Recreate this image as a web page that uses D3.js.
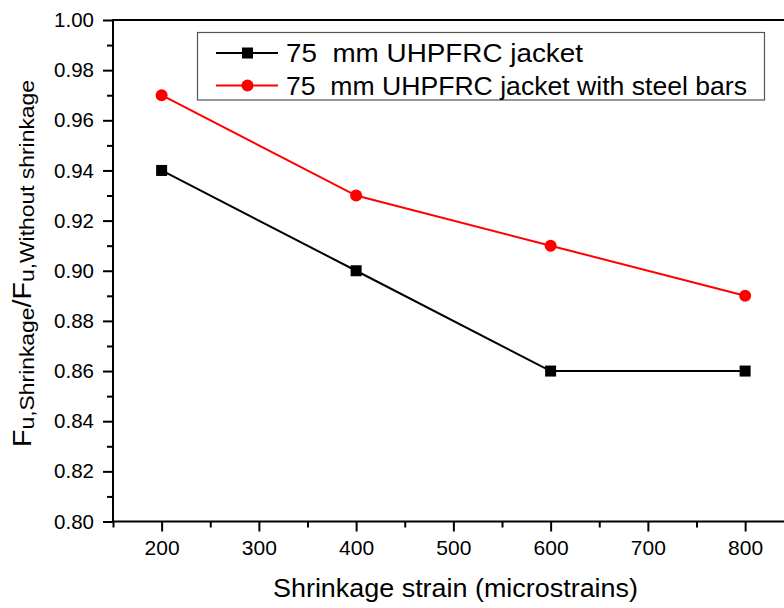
<!DOCTYPE html>
<html>
<head>
<meta charset="utf-8">
<script src="https://cdn.jsdelivr.net/npm/d3@7"></script>
<style>
  html, body { margin: 0; padding: 0; background: #fff; }
  svg { display: block; font-family: Arial, "Liberation Sans", sans-serif; }
</style>
</head>
<body>
<svg id="chart" width="784" height="608"></svg>
<script>
// Shrinkage strain levels (microstrains)
const strains = [200, 400, 600, 800];
// Normalised ultimate load F_u,Shrinkage / F_u,Without shrinkage
const jacket = [0.94, 0.90, 0.86, 0.86];
const jacketBars = [0.97, 0.93, 0.91, 0.89];
const seriesNames = ["75  mm UHPFRC jacket", "75  mm UHPFRC jacket with steel bars"];
const xTicks = [200, 300, 400, 500, 600, 700, 800];
const yTicks = [0.80, 0.82, 0.84, 0.86, 0.88, 0.90, 0.92, 0.94, 0.96, 0.98, 1.00];

const svg = d3.select("#chart");
const plotLeft = 113, plotTop = 20, plotBottom = 521.5;
const x = d3.scaleLinear().domain([150, 850]).range([plotLeft, plotLeft + 700 * 0.9725]);
const y = d3.scaleLinear().domain([0.80, 1.00]).range([plotBottom, plotTop]);

const axisW = 2;
const fontFam = "Arial, 'Liberation Sans', sans-serif";

// x axis with minor ticks
const xMinor = d3.range(150, 851, 50).filter(v => v % 100 !== 0);
svg.append("g").attr("transform", `translate(0,${plotBottom})`)
  .call(d3.axisBottom(x).tickValues(xMinor).tickSize(6).tickFormat(""))
  .call(g => g.select(".domain").remove())
  .call(g => g.selectAll("line").attr("stroke-width", axisW));
svg.append("g").attr("transform", `translate(0,${plotBottom})`)
  .call(d3.axisBottom(x).tickValues(xTicks).tickSize(10).tickPadding(9).tickFormat(d3.format("d")))
  .call(g => g.select(".domain").remove())
  .call(g => g.selectAll("line").attr("stroke-width", axisW))
  .call(g => g.selectAll("text").attr("font-size", 21).attr("fill", "#000").attr("font-family", fontFam));

// y axis with minor ticks
const yMinor = d3.range(0.81, 1.0, 0.02);
svg.append("g").attr("transform", `translate(${plotLeft},0)`)
  .call(d3.axisLeft(y).tickValues(yMinor).tickSize(6).tickFormat(""))
  .call(g => g.select(".domain").remove())
  .call(g => g.selectAll("line").attr("stroke-width", axisW));
svg.append("g").attr("transform", `translate(${plotLeft},0)`)
  .call(d3.axisLeft(y).tickValues(yTicks).tickSize(10).tickPadding(9).tickFormat(d3.format(".2f")))
  .call(g => g.select(".domain").remove())
  .call(g => g.selectAll("line").attr("stroke-width", axisW))
  .call(g => g.selectAll("text").attr("font-size", 20.5).attr("fill", "#000").attr("font-family", fontFam));

// frame lines
svg.append("line").attr("x1", plotLeft).attr("x2", plotLeft).attr("y1", plotTop - 1).attr("y2", plotBottom + 1)
  .attr("stroke", "#000").attr("stroke-width", axisW);
svg.append("line").attr("x1", plotLeft - 1).attr("x2", x(850)).attr("y1", plotBottom).attr("y2", plotBottom)
  .attr("stroke", "#000").attr("stroke-width", axisW);
svg.append("line").attr("x1", plotLeft - 1).attr("x2", x(850)).attr("y1", plotTop).attr("y2", plotTop)
  .attr("stroke", "#000").attr("stroke-width", axisW);

// series
const series = [
  { name: seriesNames[0], values: jacket, color: "#000000", shape: "square", span: 297 },
  { name: seriesNames[1], values: jacketBars, color: "#ff0000", shape: "circle", span: 461 }
];
const line = d3.line().x((d, i) => x(strains[i])).y(d => y(d));
const drawMarker = (g, s, cx, cy) => {
  if (s.shape === "square") {
    g.append("rect").attr("x", cx - 5.5).attr("y", cy - 5.5).attr("width", 11).attr("height", 11).attr("fill", s.color);
  } else {
    g.append("circle").attr("cx", cx).attr("cy", cy).attr("r", 6).attr("fill", s.color);
  }
};
series.forEach(s => {
  svg.append("path").datum(s.values).attr("d", line).attr("fill", "none")
    .attr("stroke", s.color).attr("stroke-width", 2);
  const g = svg.append("g");
  s.values.forEach((v, i) => drawMarker(g, s, x(strains[i]), y(v)));
});

// legend
const lg = svg.append("g");
lg.append("rect").attr("x", 197.5).attr("y", 32.5).attr("width", 567).attr("height", 67.5)
  .attr("fill", "#fff").attr("stroke", "#555").attr("stroke-width", 1.2);
series.forEach((s, i) => {
  const yy = 53 + i * 32.5;
  lg.append("line").attr("x1", 216).attr("x2", 278).attr("y1", yy).attr("y2", yy)
    .attr("stroke", s.color).attr("stroke-width", 2);
  drawMarker(lg, s, 247.5, yy);
  lg.append("text").attr("x", 286).attr("y", yy + 9)
    .attr("font-size", 25.5).attr("fill", "#000").attr("xml:space", "preserve")
    .attr("textLength", s.span).attr("lengthAdjust", "spacingAndGlyphs").text(s.name);
});

// axis titles
svg.append("text").attr("x", 455.5).attr("y", 597).attr("text-anchor", "middle")
  .attr("font-size", 25.5).attr("fill", "#000")
  .attr("textLength", 365).attr("lengthAdjust", "spacingAndGlyphs")
  .text("Shrinkage strain (microstrains)");

const yt = svg.append("text").attr("transform", `translate(31,263.5) rotate(-90)`)
  .attr("text-anchor", "middle").attr("fill", "#000").attr("font-size", 25)
  .attr("textLength", 367).attr("lengthAdjust", "spacingAndGlyphs");
yt.append("tspan").text("F");
yt.append("tspan").attr("font-size", 20).attr("dy", 3).text("u,Shrinkage");
yt.append("tspan").attr("dy", -3).text("/F");
yt.append("tspan").attr("font-size", 20).attr("dy", 3).text("u,Without shrinkage");
</script>
</body>
</html>
